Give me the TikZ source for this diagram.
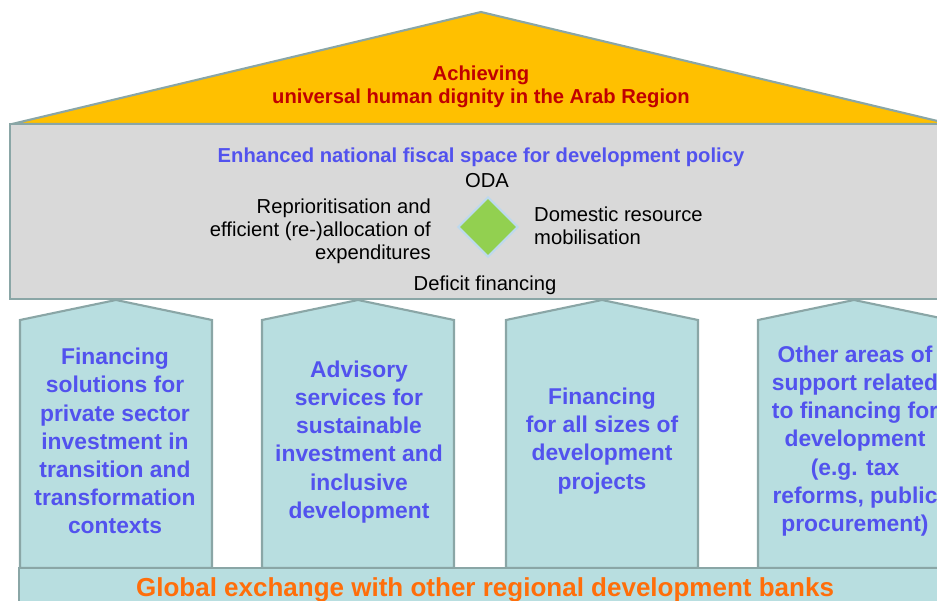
\documentclass[tikz,border=0pt]{standalone}
\usepackage{fontspec}
\setmainfont{Liberation Sans}
\usetikzlibrary{positioning,shapes.geometric}

\definecolor{roofgold}{HTML}{FFC000}
\definecolor{roofred}{HTML}{C00000}
\definecolor{slabgray}{HTML}{D9D9D9}
\definecolor{edgegray}{HTML}{8AA6A6}
\definecolor{pillarteal}{HTML}{B8DEE0}
\definecolor{leafgreen}{HTML}{92D050}
\definecolor{rimblue}{HTML}{BDD9EE}
\definecolor{textblue}{HTML}{5252EE}
\definecolor{bankorange}{HTML}{FF6E0A}

\tikzset{
    roof/.style={draw=edgegray, line width=1.2pt, fill=roofgold, line join=round},
    slab/.style={draw=edgegray, line width=1.4pt, fill=slabgray},
    pillar/.style={draw=edgegray, line width=1.2pt, fill=pillarteal},
    roofnote/.style={text=roofred, font=\fontsize{11.5}{13}\selectfont\bfseries, align=center},
    slabtitle/.style={text=textblue, font=\fontsize{11.5}{13}\selectfont\bfseries},
    lever/.style={font=\fontsize{11.5}{13}\selectfont},
    pillartext/.style={text=textblue, font=\fontsize{13}{16}\selectfont\bfseries, align=center},
    banknote/.style={text=bankorange, font=\fontsize{14.8}{17}\selectfont\bfseries}
}

\begin{document}
\begin{tikzpicture}[x=0.02cm, y=-0.02cm]
    \useasboundingbox (0,0) rectangle (937,601);
    \clip (0,0) rectangle (937,601);

    % Roof and fiscal slab
    \draw[roof] (12,124) -- (481,12) -- (950,124) -- cycle;
    \draw[slab] (10,124) rectangle (960,299);

    \node[roofnote] (goal) at (481,87) {Achieving\\universal human dignity in the Arab Region};

    \node[slabtitle] (fiscal) at (481,157) {Enhanced national fiscal space for development policy};
    \node[lever] (oda) at (487,181) {ODA};
    \node[diamond, draw=rimblue, line width=1.2pt, fill=leafgreen, minimum width=1.2cm, minimum height=1.2cm, inner sep=0pt] (hub) at (488,227) {};
    \node[lever, align=right, anchor=east] (realloc) at (437,231) {Reprioritisation and\\efficient (re-)allocation of\\expenditures};
    \node[lever, align=left, anchor=west] (domestic) at (528,226) {Domestic resource\\mobilisation};
    \node[lever] (deficit) at (485,285) {Deficit financing};

    % Pillars
    \foreach \px in {20,262,506,758} {
        \draw[pillar] (\px,568) -- (\px,320) -- (\px+96,300) -- (\px+192,320) -- (\px+192,568) -- cycle;
    }

    \node[pillartext] (private) at (115,441) {Financing\\solutions for\\private sector\\investment in\\transition and\\transformation\\contexts};
    \node[pillartext] (advisory) at (359,442) {Advisory\\services for\\sustainable\\investment and\\inclusive\\development};
    \node[pillartext] (projects) at (602,441) {Financing\\for all sizes of\\development\\projects};
    \node[pillartext] (other) at (855,441) {Other areas of\\support related\\to financing for\\development\\(e.g. tax\\reforms, public\\procurement)};

    % Base
    \draw[pillar] (19,568) rectangle (960,620);
    \node[banknote] (exchange) at (485,590) {Global exchange with other regional development banks};
\end{tikzpicture}
\end{document}
